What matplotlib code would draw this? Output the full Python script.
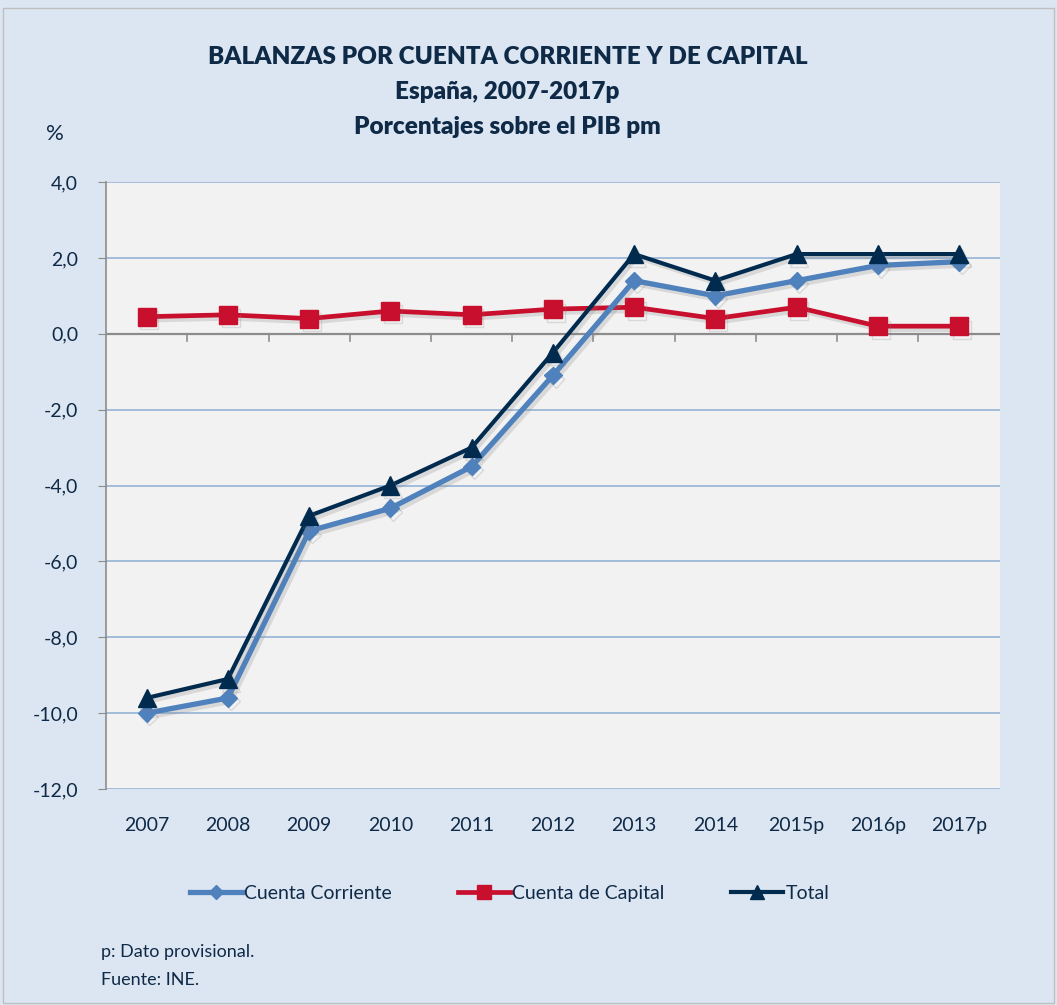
import matplotlib.pyplot as plt
import matplotlib.patheffects as pe
from matplotlib.patches import Rectangle

years = ['2007', '2008', '2009', '2010', '2011', '2012', '2013', '2014', '2015p', '2016p', '2017p']
cuenta_corriente = [-10.0, -9.6, -5.2, -4.6, -3.5, -1.1, 1.4, 1.0, 1.4, 1.8, 1.9]
cuenta_capital = [0.45, 0.5, 0.4, 0.6, 0.5, 0.65, 0.7, 0.4, 0.7, 0.2, 0.2]
total = [-9.6, -9.1, -4.8, -4.0, -3.0, -0.5, 2.1, 1.4, 2.1, 2.1, 2.1]
y_ticks = [4.0, 2.0, 0.0, -2.0, -4.0, -6.0, -8.0, -10.0, -12.0]

plt.rcParams['font.family'] = ['Lato', 'DejaVu Sans']
txt = '#0F2A47'
bg = '#DCE6F2'

fig = plt.figure(figsize=(10.57, 10.05), dpi=100, facecolor=bg)
fig.patches.append(Rectangle((0.003, 0.002), 0.994, 0.99, transform=fig.transFigure,
                             fill=False, edgecolor='#BFBFBF', linewidth=1))
ax = fig.add_axes([0.1003, 0.2149, 0.8455, 0.604])
ax.set_facecolor('#F2F2F2')

x = list(range(len(years)))
shadow = [pe.SimpleLineShadow(offset=(2, -2.5), shadow_color='#7F7F7F', alpha=0.22), pe.Normal()]

ax.plot(x, cuenta_capital, color='#C8102E', linewidth=3.4, marker='s', markersize=13,
        label='Cuenta de Capital', zorder=3, path_effects=shadow)
ax.plot(x, cuenta_corriente, color='#4F81BD', linewidth=3.8, marker='D', markersize=9,
        label='Cuenta Corriente', zorder=4, path_effects=shadow)
ax.plot(x, total, color='#002B4F', linewidth=3.0, marker='^', markersize=13,
        label='Total', zorder=5, path_effects=shadow)

ax.set_xlim(-0.5, len(years) - 0.5)
ax.set_ylim(-12, 4)
ax.set_yticks(y_ticks)
ax.set_yticklabels([f'{v:.1f}'.replace('.', ',') for v in y_ticks], fontsize=14, color=txt)
ax.yaxis.grid(True, color='#95B3D7', linewidth=1.2, zorder=0)
ax.set_axisbelow(True)

for s in ['top', 'right', 'bottom']:
    ax.spines[s].set_visible(False)
ax.spines['left'].set_color('#8C8C8C')
ax.spines['left'].set_linewidth(1.2)
ax.tick_params(axis='y', length=6, color='#8C8C8C', pad=14)

# eje de categorías cruzando en cero
ax.axhline(0, color='#8C8C8C', linewidth=1.6, zorder=1)
for b in range(1, len(years)):
    ax.plot([b - 0.5, b - 0.5], [0, -0.18], color='#8C8C8C', linewidth=1.2, zorder=1)
ax.set_xticks(x)
ax.set_xticklabels(years, fontsize=14, color=txt)
ax.tick_params(axis='x', length=0, pad=20)

fig.text(0.48, 0.943, 'BALANZAS POR CUENTA CORRIENTE Y DE CAPITAL', ha='center', va='center',
         fontsize=17.5, fontweight='heavy', color=txt)
fig.text(0.48, 0.908, 'España, 2007-2017p', ha='center', va='center',
         fontsize=17.5, fontweight='heavy', color=txt)
fig.text(0.48, 0.874, 'Porcentajes sobre el PIB pm', ha='center', va='center',
         fontsize=17.5, fontweight='heavy', color=txt)
fig.text(0.052, 0.867, '%', ha='center', va='center', fontsize=16, color=txt)

handles, labels = ax.get_legend_handles_labels()
order = [1, 0, 2]
leg = fig.legend([handles[i] for i in order], [labels[i] for i in order], loc='center',
                 bbox_to_anchor=(0.482, 0.111), ncol=3, frameon=False, fontsize=14,
                 handlelength=2.7, handletextpad=0.1, columnspacing=3.4, labelcolor=txt,
                 markerscale=0.75)
for h in leg.legend_handles:
    h.set_path_effects([])

fig.text(0.096, 0.053, 'p: Dato provisional.', ha='left', va='center', fontsize=13, color=txt)
fig.text(0.096, 0.025, 'Fuente: INE.', ha='left', va='center', fontsize=13, color=txt)

fig.savefig('out.png', dpi=100, facecolor=bg)
